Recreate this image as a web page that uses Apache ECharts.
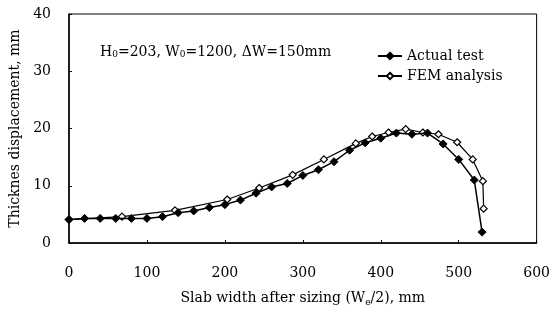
<!DOCTYPE html>
<html>
<head>
<meta charset="utf-8">
<script src="https://cdn.jsdelivr.net/npm/echarts@6/dist/echarts.min.js"></script>
<style>
  html, body { margin: 0; padding: 0; background: #fff; }
  #chart { width: 553px; height: 320px; }
</style>
</head>
<body>
<div id="chart"></div>
<script>
const fontFamily = "DejaVu Serif";
const ink = "#000";

const xTicks = [0, 100, 200, 300, 400, 500, 600];
const yTicks = [0, 10, 20, 30, 40];

const actualX = [0, 20, 40, 60, 80, 100, 120, 140, 160, 180, 200, 220, 240, 260, 280, 300, 320, 340, 360, 380, 400, 420, 440, 460, 480, 500, 520, 530];
const actualY = [4.1, 4.3, 4.3, 4.3, 4.3, 4.3, 4.6, 5.3, 5.6, 6.2, 6.7, 7.5, 8.7, 9.8, 10.4, 11.8, 12.8, 14.2, 16.2, 17.5, 18.3, 19.2, 19.0, 19.2, 17.3, 14.6, 11.0, 1.9];

const femX = [0, 68, 136, 203, 244, 287, 327, 368, 389, 410, 432, 454, 474, 498, 518, 531, 532];
const femY = [4.1, 4.6, 5.7, 7.6, 9.6, 11.9, 14.6, 17.4, 18.6, 19.3, 19.9, 19.3, 19.0, 17.6, 14.6, 10.8, 6.0];

const seriesNames = ["Actual test", "FEM analysis"];

function pairs(xs, ys) {
  return xs.map((x, i) => [x, ys[i]]);
}

const chart = echarts.init(document.getElementById("chart"), null, { renderer: "canvas" });

chart.setOption({
  animation: false,
  grid: {
    left: 68,
    right: 15,
    top: 14,
    bottom: 77,
    show: true,
    borderColor: ink,
    borderWidth: 1,
    backgroundColor: "transparent"
  },
  legend: {
    orient: "vertical",
    left: 372,
    top: 44,
    itemWidth: 24,
    itemHeight: 8,
    itemGap: 6,
    data: seriesNames,
    textStyle: { fontFamily, fontSize: 14, color: ink }
  },
  graphic: [
    {
      type: "text",
      left: 100,
      top: 45,
      style: {
        text: "H{s|0}=203, W{s|0}=1200, ΔW=150mm",
        fontFamily,
        fontSize: 14,
        fill: ink,
        rich: {
          s: { fontFamily, fontSize: 9, fill: ink, verticalAlign: "bottom", padding: [6, 0, 0, 0] }
        }
      }
    }
  ],
  xAxis: {
    type: "value",
    min: xTicks[0],
    max: xTicks[xTicks.length - 1],
    interval: 100,
    name: "Slab width after sizing (W{s|e}/2), mm",
    nameLocation: "middle",
    nameGap: 47,
    nameTextStyle: {
      fontFamily,
      fontSize: 14,
      color: ink,
      rich: {
        s: { fontFamily, fontSize: 9, color: ink, padding: [8, 0, 0, 0] }
      }
    },
    axisLine: { lineStyle: { color: ink, width: 1.5 } },
    axisTick: { inside: true, length: 3, lineStyle: { color: ink } },
    axisLabel: { fontFamily, fontSize: 14, color: ink, margin: 23 },
    splitLine: { show: false }
  },
  yAxis: {
    type: "value",
    min: yTicks[0],
    max: yTicks[yTicks.length - 1],
    interval: 10,
    name: "Thicknes displacement, mm",
    nameLocation: "middle",
    nameGap: 47,
    nameTextStyle: { fontFamily, fontSize: 14, color: ink },
    axisLine: { lineStyle: { color: ink, width: 1.5 } },
    axisTick: { inside: true, length: 3, lineStyle: { color: ink } },
    axisLabel: { fontFamily, fontSize: 14, color: ink, margin: 18 },
    splitLine: { show: false }
  },
  series: [
    {
      name: seriesNames[0],
      type: "line",
      data: pairs(actualX, actualY),
      symbol: "diamond",
      symbolSize: 8,
      itemStyle: { color: ink, borderColor: ink, borderWidth: 1 },
      lineStyle: { color: ink, width: 1.5 },
      z: 3
    },
    {
      name: seriesNames[1],
      type: "line",
      data: pairs(femX, femY),
      symbol: "diamond",
      symbolSize: 7,
      itemStyle: { color: "#fff", borderColor: ink, borderWidth: 1.2 },
      lineStyle: { color: ink, width: 1.2 },
      z: 2
    }
  ]
});
</script>
</body>
</html>
